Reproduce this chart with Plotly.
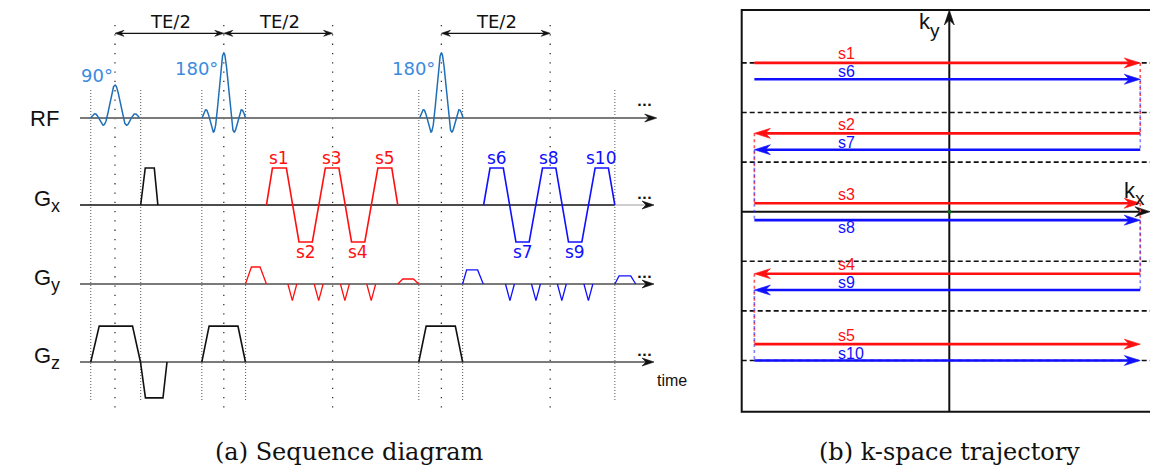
import numpy as np
import plotly.graph_objects as go

# ====================== DATA : sequence diagram ======================
# time in ms, gradient amplitudes normalised to readout amplitude (=1)
row_names = ["RF", "Gx", "Gy", "Gz"]
row_main = ["RF", "G", "G", "G"]
row_sub = ["", "x", "y", "z"]

rf_center_ms = [0.0, 10.0, 30.0]
rf_half_ms = [2.25, 2.0, 2.0]
rf_amp = [1.0, 1.97, 1.97]
rf_label = ["90°", "180°", "180°"]

gx_pre_t = [2.36, 2.78, 3.61, 3.94]
gx_pre_a = [0, 1, 1, 0]
gx_red_t = [13.92, 14.47, 15.75, 16.91, 18.14, 19.33, 20.58, 21.74, 22.96, 24.16, 25.44, 25.99]
gx_red_a = [0, 1, 1, -1, -1, 1, 1, -1, -1, 1, 1, 0]
gx_blue_t = [33.88, 34.47, 35.69, 36.85, 38.07, 39.29, 40.52, 41.68, 42.91, 44.13, 45.35, 45.94]
gx_blue_a = [0, 1, 1, -1, -1, 1, 1, -1, -1, 1, 1, 0]
red_seg_names = ["s1", "s2", "s3", "s4", "s5"]
blue_seg_names = ["s6", "s7", "s8", "s9", "s10"]

gy_red_pre_t = [11.99, 12.54, 13.33, 13.92]
gy_red_pre_a = [0, 0.46, 0.46, 0]
gy_red_blip_t = [16.30, 18.72, 21.13, 23.55]
gy_red_rew_t = [25.99, 26.45, 27.43, 27.92]
gy_red_rew_a = [0, 0.135, 0.135, 0]
gy_blue_pre_t = [31.95, 32.32, 33.33, 33.85]
gy_blue_pre_a = [0, 0.38, 0.38, 0]
gy_blue_blip_t = [36.30, 38.69, 41.07, 43.51]
gy_blue_rew_t = [45.94, 46.33, 47.40, 47.86]
gy_blue_rew_a = [0, 0.22, 0.22, 0]
blip_half_ms = 0.41
blip_amp = -0.45

gz1_t = [-2.23, -1.45, 1.61, 2.34, 2.80, 4.41, 4.78]
gz1_a = [0, 0.97, 0.97, 0, -0.97, -0.97, 0]
gz2_t = [7.98, 8.65, 11.30, 11.99]
gz3_t = [27.92, 28.60, 31.28, 31.95]
gz_pulse_a = [0, 0.97, 0.97, 0]

major_lines_ms = [0, 10, 20, 30, 40]
minor_lines_ms = [-2.23, 2.36, 7.98, 12.0, 27.92, 31.95, 45.94]
te_half_pairs = [(0, 10), (10, 20), (30, 40)]

# ====================== DATA : k-space ======================
kx_start, kx_end = -3.93, 3.85
red_ky = [3.0, 1.58, 0.17, -1.25, -2.67]
blue_ky = [2.67, 1.25, -0.17, -1.58, -3.0]
grid_ky = [3, 2, 1, -1, -2, -3]

# ====================== LAYOUT CONSTANTS ======================
W, H = 1150, 467
MS_PX = 10.88          # px per ms
T0_PX = 115            # px of t = 0
BASE = {"RF": 118, "Gx": 205, "Gy": 284, "Gz": 362}
GRAD_PX = 37
RF_PX = 33
K_PX = 49.6
KX0_PX, KY0_PX = 949.3, 211.7

RED = "#ff1010"
BLUE = "#1010ff"
RFC = "#1f6fb8"
RFL = "#3b8ae0"
GRAY = "#7a7a7a"

fig = go.Figure()


def ms(px):
    return (px - T0_PX) / MS_PX


def kx(px):
    return (px - KX0_PX) / K_PX


def ky(py):
    return (KY0_PX - py) / K_PX


def seq_line(t, a, row, color, width=1.6, scale=GRAD_PX, dash=None):
    fig.add_trace(go.Scatter(
        x=list(t), y=[BASE[row] - v * scale for v in a], mode="lines",
        line=dict(color=color, width=width, dash=dash), hoverinfo="skip",
        showlegend=False, xaxis="x", yaxis="y"))


def heads(tips, color, axes):
    xs, ys = [], []
    for (xt, yt, ux, uy, L, Wd, N) in tips:
        pxp, pyp = -uy, ux
        pts = [(0, 0), (-L * ux + Wd / 2 * pxp, -L * uy + Wd / 2 * pyp), (-N * ux, -N * uy),
               (-L * ux - Wd / 2 * pxp, -L * uy - Wd / 2 * pyp), (0, 0)]
        for ox, oy in pts:
            if axes == "left":
                xs.append(xt + ox / MS_PX)
                ys.append(yt + oy)
            else:
                xs.append(xt + ox / K_PX)
                ys.append(yt - oy / K_PX)
        xs.append(None)
        ys.append(None)
    fig.add_trace(go.Scatter(
        x=xs, y=ys, mode="lines", fill="toself", fillcolor=color,
        line=dict(color=color, width=0.6), hoverinfo="skip", showlegend=False,
        xaxis="x" if axes == "left" else "x2", yaxis="y" if axes == "left" else "y2"))


# ---------- vertical dotted lines ----------
for t in major_lines_ms:
    fig.add_trace(go.Scatter(x=[t, t], y=[25, 412], mode="lines",
                             line=dict(color="#333333", width=1.3, dash="1.3px,8px"),
                             hoverinfo="skip", showlegend=False))
for t in minor_lines_ms:
    fig.add_trace(go.Scatter(x=[t, t], y=[90, 402], mode="lines",
                             line=dict(color="#666666", width=1.1, dash="1px,2px"),
                             hoverinfo="skip", showlegend=False))

# ---------- baselines ----------
x_start = ms(80)
tip_rf = ms(656.7)
tip_g = ms(654)
fig.add_trace(go.Scatter(x=[x_start, tip_rf - 0.6], y=[BASE["RF"]] * 2, mode="lines",
                         line=dict(color=GRAY, width=2.2), hoverinfo="skip", showlegend=False))
fig.add_trace(go.Scatter(x=[x_start, gx_blue_t[-1]], y=[BASE["Gx"]] * 2, mode="lines",
                         line=dict(color="#111111", width=1.6), hoverinfo="skip", showlegend=False))
fig.add_trace(go.Scatter(x=[gx_blue_t[-1], tip_g - 0.6], y=[BASE["Gx"]] * 2, mode="lines",
                         line=dict(color="#bdbdbd", width=1.4), hoverinfo="skip", showlegend=False))
for r in ["Gy", "Gz"]:
    fig.add_trace(go.Scatter(x=[x_start, tip_g - 0.6], y=[BASE[r]] * 2, mode="lines",
                             line=dict(color=GRAY, width=2.2), hoverinfo="skip", showlegend=False))
heads([(tip_rf, BASE["RF"], 1, 0, 12, 8, 8)] +
      [(tip_g, BASE[r], 1, 0, 12, 8, 8) for r in ["Gx", "Gy", "Gz"]], "#111111", "left")

# ---------- RF pulses ----------
u = np.linspace(-3, 3, 301)
for c, hw, a in zip(rf_center_ms, rf_half_ms, rf_amp):
    seq_line(c + u * hw / 3, a * np.sinc(u), "RF", RFC, width=1.5, scale=RF_PX)

# ---------- Gx ----------
seq_line(gx_pre_t, gx_pre_a, "Gx", "#111111")
seq_line(gx_red_t, gx_red_a, "Gx", RED)
seq_line(gx_blue_t, gx_blue_a, "Gx", BLUE)


# ---------- Gy ----------
def blips(centers):
    t, a = [], []
    for c in centers:
        t += [c - blip_half_ms, c, c + blip_half_ms, None]
        a += [0, blip_amp, 0, 0]
    return t, a


seq_line(gy_red_pre_t, gy_red_pre_a, "Gy", RED, width=1.3)
bt, ba = blips(gy_red_blip_t)
fig.add_trace(go.Scatter(x=bt, y=[BASE["Gy"] - v * GRAD_PX if t is not None else None for t, v in zip(bt, ba)],
                         mode="lines", line=dict(color=RED, width=1.3), hoverinfo="skip", showlegend=False))
seq_line(gy_red_rew_t, gy_red_rew_a, "Gy", RED, width=1.3)
seq_line(gy_blue_pre_t, gy_blue_pre_a, "Gy", BLUE, width=1.3)
bt, ba = blips(gy_blue_blip_t)
fig.add_trace(go.Scatter(x=bt, y=[BASE["Gy"] - v * GRAD_PX if t is not None else None for t, v in zip(bt, ba)],
                         mode="lines", line=dict(color=BLUE, width=1.3), hoverinfo="skip", showlegend=False))
seq_line(gy_blue_rew_t, gy_blue_rew_a, "Gy", BLUE, width=1.3)

# ---------- Gz ----------
seq_line(gz1_t, gz1_a, "Gz", "#111111")
seq_line(gz2_t, gz_pulse_a, "Gz", "#111111")
seq_line(gz3_t, gz_pulse_a, "Gz", "#111111")

# ---------- TE/2 arrows ----------
te_y = 33.3
te_tips = []
for a, b in te_half_pairs:
    fig.add_trace(go.Scatter(x=[a + 0.4, b - 0.4], y=[te_y, te_y], mode="lines",
                             line=dict(color="#111111", width=1.3), hoverinfo="skip", showlegend=False))
    te_tips += [(a, te_y, -1, 0, 9, 6, 6), (b, te_y, 1, 0, 9, 6, 6)]
heads(te_tips, "#111111", "left")

annotations = []


def txt(x, y, s, size, color="#111111", family="DejaVu Sans", xref="x", yref="y", xanchor="center", **kw):
    annotations.append(dict(x=x, y=y, text=s, showarrow=False, xref=xref, yref=yref,
                            xanchor=xanchor, yanchor="middle", borderpad=0,
                            font=dict(size=size, color=color, family=family), **kw))


for a, b in te_half_pairs:
    txt((a + b) / 2 + 0.1, 21.5, "TE/2", 18)

# RF labels
txt(ms(97), 75, rf_label[0], 18, RFL)
txt(ms(196), 68, rf_label[1], 18, RFL)
txt(ms(413.5), 68, rf_label[2], 18, RFL)


# segment labels on Gx
def lobe_centers(t):
    return [(t[1 + 2 * i] + t[2 + 2 * i]) / 2 for i in range(5)]


for names, tt, col in [(red_seg_names, gx_red_t, RED), (blue_seg_names, gx_blue_t, BLUE)]:
    for i, (n, c) in enumerate(zip(names, lobe_centers(tt))):
        up = gx_red_a[1 + 2 * i] > 0
        txt(c, BASE["Gx"] - (47 if up else -47), n, 17, col)

# row labels (main letter + subscript as separate texts)
for r, m, s in zip(row_names, row_main, row_sub):
    if s:
        txt(ms(52), BASE[r] - 7, m, 22, "#111111", family="Liberation Sans", xanchor="right")
        txt(ms(50), BASE[r] + 1, s, 18, "#111111", family="Liberation Sans", xanchor="left")
    else:
        txt(ms(44), BASE[r], m, 22, "#111111", family="Liberation Sans")

# dots "..."
for r, dy in [("RF", -17), ("Gx", -11), ("Gy", -11), ("Gz", -11)]:
    txt(ms(644), BASE[r] + dy, "<b>...</b>", 13, "#111111")
txt(ms(672), 380, "time", 16, "#111111", family="Liberation Sans")

# ====================== k-space panel ======================
left_k, top_k, bot_k, right_k = kx(741.7), ky(10), ky(411.7), kx(1160)
# grid dashed lines
for g in grid_ky:
    fig.add_trace(go.Scatter(x=[left_k, right_k], y=[g, g], mode="lines",
                             line=dict(color="#111111", width=1.6, dash="5px,3px"),
                             hoverinfo="skip", showlegend=False, xaxis="x2", yaxis="y2"))
# box
fig.add_trace(go.Scatter(x=[right_k, left_k, left_k, right_k], y=[top_k, top_k, bot_k, bot_k], mode="lines",
                         line=dict(color="#111111", width=2), hoverinfo="skip", showlegend=False,
                         xaxis="x2", yaxis="y2"))
# axes
fig.add_trace(go.Scatter(x=[left_k, kx(1142)], y=[0, 0], mode="lines", line=dict(color="#111111", width=2),
                         hoverinfo="skip", showlegend=False, xaxis="x2", yaxis="y2"))
fig.add_trace(go.Scatter(x=[0, 0], y=[bot_k, ky(20)], mode="lines", line=dict(color="#111111", width=2),
                         hoverinfo="skip", showlegend=False, xaxis="x2", yaxis="y2"))
heads([(kx(1150), 0, 1, 0, 15, 10, 10), (0, top_k, 0, -1, 15, 10, 10)], "#111111", "k")
fig.add_trace(go.Scatter(x=[0], y=[0], mode="markers", marker=dict(color="#0a6a1a", size=4),
                         hoverinfo="skip", showlegend=False, xaxis="x2", yaxis="y2"))

# dotted connectors
for kys, col, op in [(red_ky, "#ff4040", 0.9), (blue_ky, "#3030ff", 0.6)]:
    for i in range(4):
        xx = kx_end if i % 2 == 0 else kx_start
        fig.add_trace(go.Scatter(x=[xx, xx], y=[kys[i], kys[i + 1]], mode="lines",
                                 line=dict(color=col, width=1.6, dash="dot"), opacity=op,
                                 hoverinfo="skip", showlegend=False, xaxis="x2", yaxis="y2"))

# trajectory lines
for kys, col in [(red_ky, RED), (blue_ky, BLUE)]:
    tips = []
    for i, yv in enumerate(kys):
        if i % 2 == 0:
            x0, x1, d = kx_start, kx_end, 1
        else:
            x0, x1, d = kx_end, kx_start, -1
        fig.add_trace(go.Scatter(x=[x0, x1 - d * 8 / K_PX], y=[yv, yv], mode="lines",
                                 line=dict(color=col, width=2.6), hoverinfo="skip", showlegend=False,
                                 xaxis="x2", yaxis="y2"))
        tips.append((x1, yv, d, 0, 16, 10, 11))
    heads(tips, col, "k")

# k-space labels
lab_x = kx(836)
for n, yv in zip(red_seg_names, red_ky):
    annotations.append(dict(x=lab_x, y=yv, xref="x2", yref="y2", text=n, showarrow=False,
                            xanchor="left", yanchor="middle", yshift=9,
                            font=dict(size=16, color=RED, family="Liberation Sans")))
for n, yv in zip(blue_seg_names, blue_ky):
    annotations.append(dict(x=lab_x, y=yv, xref="x2", yref="y2", text=n, showarrow=False,
                            xanchor="left", yanchor="middle", yshift=(-7 if n == "s8" else 7.5),
                            font=dict(size=16, color=BLUE, family="Liberation Sans")))


def ktxt(xpx, ypx, s, size, xanchor):
    annotations.append(dict(x=kx(xpx), y=ky(ypx), xref="x2", yref="y2", text=s, showarrow=False,
                            xanchor=xanchor, yanchor="middle", borderpad=0,
                            font=dict(size=size, color="#111111", family="Liberation Sans")))


ktxt(932, 21, "k", 22, "right")
ktxt(929, 30, "y", 19, "left")
ktxt(1137, 190, "k", 22, "right")
ktxt(1134, 198, "x", 19, "left")

# captions
annotations.append(dict(x=349.5 / W, y=1 - 452 / H, xref="paper", yref="paper", text="(a) Sequence diagram",
                        showarrow=False, xanchor="center", yanchor="middle",
                        font=dict(size=24, color="#111111", family="DejaVu Serif")))
annotations.append(dict(x=949.7 / W, y=1 - 452 / H, xref="paper", yref="paper", text="(b) k-space trajectory",
                        showarrow=False, xanchor="center", yanchor="middle",
                        font=dict(size=24, color="#111111", family="DejaVu Serif")))

fig.update_layout(
    width=W, height=H, margin=dict(l=0, r=0, t=0, b=0),
    paper_bgcolor="white", plot_bgcolor="white", showlegend=False,
    annotations=annotations,
    xaxis=dict(domain=[0, 1], range=[ms(0), ms(W)], visible=False, fixedrange=True),
    yaxis=dict(domain=[0, 1], range=[H, 0], visible=False, fixedrange=True),
    xaxis2=dict(domain=[0, 1], range=[kx(0), kx(W)], visible=False, overlaying="x", anchor="y2"),
    yaxis2=dict(domain=[0, 1], range=[ky(H), ky(0)], visible=False, overlaying="y", anchor="x2"),
)

fig.write_html("out.html")
